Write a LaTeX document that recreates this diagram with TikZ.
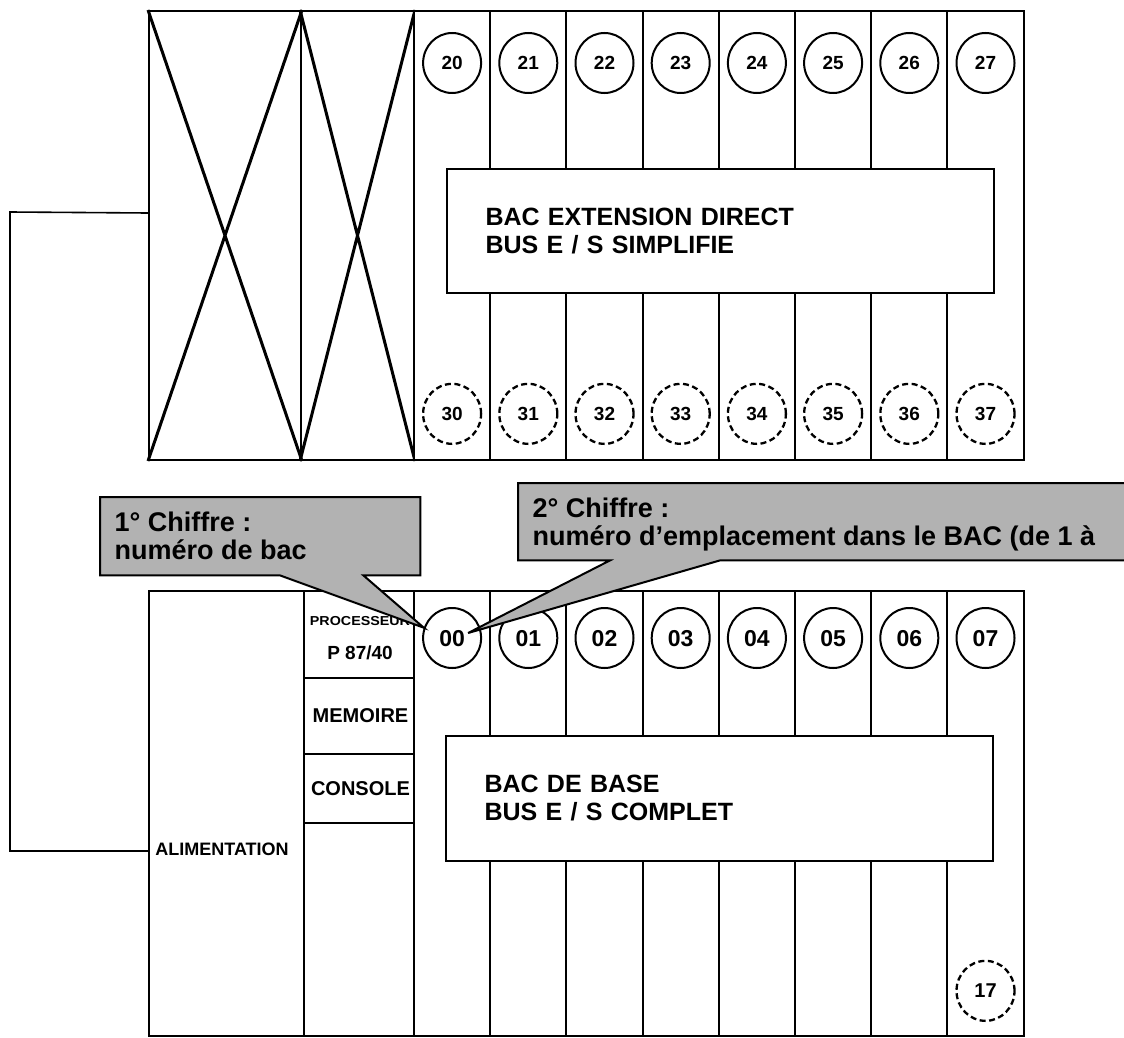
\documentclass[tikz,border=0pt]{standalone}
\usepackage{fontspec}
\setmainfont{Liberation Sans}
\usetikzlibrary{positioning, shapes.geometric}

\tikzset{
  module/.style={draw, line width=2pt, fill=white, inner sep=0pt, anchor=north west},
  slotnum/.style={draw, ellipse, line width=2pt, fill=white, inner sep=0pt, minimum width=58pt, minimum height=60pt,
    text height=13pt, text depth=0pt, font=\bfseries\fontsize{19}{19}\selectfont},
  slotfree/.style={slotnum, line width=2.3pt, dash pattern=on 6pt off 3.5pt},
  bactext/.style={module, align=left, text width=470pt, font=\bfseries\fontsize{25}{28}\selectfont},
  modtext/.style={font=\bfseries\fontsize{20}{20}\selectfont},
  notebox/.style={fill=black!30, draw, line width=2pt, line join=miter},
  notetext/.style={anchor=west, align=left, font=\bfseries\fontsize{27}{28}\selectfont},
  cross/.style={line width=3pt}
}

\begin{document}
\begin{tikzpicture}[x=1pt, y=-1pt]
\clip (0,0) rectangle (1124,1038);
\useasboundingbox (0,0) rectangle (1124,1038);

% bac extension
\node[module, minimum width=152pt, minimum height=449pt] (vide1) at (148,10) {};
\node[module, minimum width=113pt, minimum height=449pt] (vide2) at (300,10) {};
\draw[cross] (vide1.north west) -- (vide1.south east) (vide1.north east) -- (vide1.south west);
\draw[cross] (vide2.north west) -- (vide2.south east) (vide2.north east) -- (vide2.south west);
\foreach \i in {0,...,7} {
  \node[module, minimum width=76.2pt, minimum height=449pt] (hs\i) at ({413+76.2*\i},10) {};
  \node[slotnum, below=22pt of hs\i.north] (c2\i) {2\i};
  \node[slotfree, above=16pt of hs\i.south] (c3\i) {3\i};
}
\node[bactext, minimum width=547pt, minimum height=124pt] (bacext) at (446,168) {BAC EXTENSION DIRECT\\BUS E / S SIMPLIFIE};

% bac de base
\node[module, minimum width=155pt, minimum height=445pt] (alim) at (148,590) {};
\node[font=\bfseries\fontsize{18}{18}\selectfont] (alimlbl) at (222,849) {ALIMENTATION};
\node[module, minimum width=113pt, minimum height=87pt] (proc) at (303,590) {};
\node[module, modtext, minimum width=113pt, minimum height=76pt] (mem) at (303,677) {MEMOIRE};
\node[module, modtext, minimum width=113pt, minimum height=69pt] (cons) at (303,753) {CONSOLE};
\node[module, minimum width=113pt, minimum height=213pt] (cpuvide) at (303,822) {};
\foreach \i in {0,...,7} {
  \node[module, minimum width=76.2pt, minimum height=445pt] (bs\i) at ({413+76.2*\i},590) {};
  \node[slotnum, text height=16pt, font=\bfseries\fontsize{23}{23}\selectfont, below=17pt of bs\i.north] (c0\i) {0\i};
}
\node[font=\bfseries\fontsize{13}{13}\selectfont] (proclbl) at (360,621) {\scalebox{1.1}[1]{PROCESSEUR}};
\node[font=\bfseries\fontsize{19}{19}\selectfont] (proctype) at (360,653) {P 87/40};
\node[slotfree, text height=14pt, font=\bfseries\fontsize{20}{20}\selectfont, above=15pt of bs7.south] (c17) {17};
\node[bactext, minimum width=547pt, minimum height=125pt] (bacbase) at (445,735) {BAC DE BASE\\BUS E / S COMPLET};

% liaison entre bacs
\coordinate (bus) at (10,212);
\draw[line width=1.6pt] ([yshift=22.5pt]vide1.west) -- (bus) |- ([yshift=-37.5pt]alim.west);

% bulles
\node[inner sep=0pt, minimum width=320pt, minimum height=78pt, anchor=north west] (note1) at (100,497) {};
\filldraw[notebox] (note1.north west) -- (note1.north east) -- (note1.south east)
  -- ([xshift=-57pt]note1.south east) -- (c00.160) -- ([xshift=180pt]note1.south west)
  -- (note1.south west) -- cycle;
\node[notetext] (note1txt) at ([xshift=11pt]note1.west) {1° Chiffre :\\numéro de bac};

\node[inner sep=0pt, minimum width=640pt, minimum height=77pt, anchor=north west] (note2) at (518,483) {};
\filldraw[notebox] (note2.north west) -- (note2.north east) -- (note2.south east)
  -- ([xshift=202pt]note2.south west) -- ([shift={(16pt,5pt)}]c00.center) -- ([xshift=92pt]note2.south west)
  -- (note2.south west) -- cycle;
\node[notetext] (note2txt) at ([shift={(11pt,-3pt)}]note2.west) {2° Chiffre :\\numéro d'emplacement dans le BAC (de 1 à};
\end{tikzpicture}
\end{document}
